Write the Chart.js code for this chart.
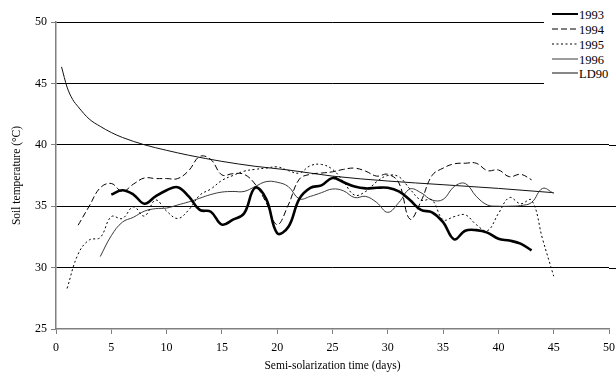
<!DOCTYPE html>
<html><head><meta charset="utf-8">
<script src="https://cdn.jsdelivr.net/npm/chart.js@4"></script>
<style>
body{margin:0;background:#fff}
#wrap{position:relative;width:616px;height:381px}
#legend{position:absolute;left:544px;top:0;width:72px;height:90px;background:#fff}
#legend text{font-family:"Liberation Serif","Times New Roman",serif;font-size:12.5px;fill:#000}
</style>
</head><body>
<div id="wrap">
<canvas id="c" width="616" height="381"></canvas>
<svg id="legend" width="72" height="90" xmlns="http://www.w3.org/2000/svg"></svg>
</div>
<script>
// ---- data ----
const seriesNames = ["1993", "1994", "1995", "1996", "LD90"];
const yTicks = [25, 30, 35, 40, 45, 50];
const xTicks = [0, 5, 10, 15, 20, 25, 30, 35, 40, 45, 50];

const days1993 = [5,6,7,8,9,10,11,12,13,14,15,16,17,18,19,20,21,22,23,24,25,26,27,28,29,30,31,32,33,34,35,36,37,38,39,40,41,42,43];
const temp1993 = [35.95,36.3,35.95,35.2,35.8,36.3,36.55,35.8,34.7,34.55,33.5,33.9,34.4,36.5,35.6,32.8,33.3,35.6,36.5,36.7,37.3,36.95,36.6,36.45,36.5,36.5,36.2,35.5,34.7,34.5,33.7,32.3,33.0,33.05,32.85,32.35,32.2,31.95,31.4];

const days1994 = [2,3,4,5,6,7,8,9,10,11,12,13,14,15,16,17,18,19,20,21,22,23,24,25,26,27,28,29,30,31,32,33,34,35,36,37,38,39,40,41,42,43];
const temp1994 = [33.45,35.0,36.5,36.85,36.2,36.8,37.3,37.25,37.25,37.25,37.9,39.05,38.8,37.55,37.65,37.6,36.8,35.3,33.5,35.1,37.2,37.6,37.7,37.8,38.0,38.1,37.85,37.45,37.6,36.9,33.95,35.4,37.5,38.1,38.45,38.5,38.5,37.9,37.95,37.4,37.6,37.15];

const days1995 = [1,2,3,4,5,6,7,8,9,10,11,12,13,14,15,16,17,18,19,20,21,22,23,24,25,26,27,28,29,30,31,32,33,34,35,36,37,38,39,40,41,42,43,44,45];
const temp1995 = [28.3,31.1,32.25,32.45,34.15,34.0,34.95,34.2,35.5,34.6,34.0,34.7,35.9,36.4,37.1,37.5,37.85,38.0,38.1,38.2,37.9,37.7,38.3,38.4,38.0,37.0,35.9,36.2,37.0,37.5,37.4,36.4,35.5,35.5,33.9,34.15,34.3,33.5,33.0,34.4,35.7,35.2,35.5,32.3,29.3];

const days1996 = [4,5,6,7,8,9,10,11,12,13,14,15,16,17,18,19,20,21,22,23,24,25,26,27,28,29,30,31,32,33,34,35,36,37,38,39,40,41,42,43,44,45];
const temp1996 = [30.9,32.6,33.7,34.1,34.6,34.8,34.85,35.1,35.35,35.65,35.95,36.15,36.2,36.2,36.6,37.0,36.95,36.6,35.6,35.8,36.1,36.4,36.25,35.7,35.8,35.3,34.5,35.3,36.4,36.1,35.5,35.55,36.6,36.85,35.8,35.1,35.0,35.0,35.05,35.3,36.45,36.05];

const daysLD90 = [0.5,1,1.5,2,3,4,5,6,8,10,12,15,18,21,25,30,35,40,45];
const tempLD90 = [46.35,44.7,43.7,43.1,42.1,41.5,41.0,40.6,40.0,39.55,39.15,38.65,38.25,37.95,37.45,37.05,36.75,36.45,36.1];

// ---- styles ----
const SERIF = '"Liberation Serif","Times New Roman",serif';
const pts = (xs, ys) => xs.map((x, i) => ({x: x, y: ys[i]}));
const styles = [
  {borderColor:'#000', borderWidth:2.6, borderDash:[]},
  {borderColor:'#000', borderWidth:1, borderDash:[6,3]},
  {borderColor:'#000', borderWidth:1, borderDash:[2,2.5]},
  {borderColor:'#3a3a3a', borderWidth:1, borderDash:[]},
  {borderColor:'#111', borderWidth:1, borderDash:[]}
];
const dataPairs = [[days1993,temp1993],[days1994,temp1994],[days1995,temp1995],[days1996,temp1996],[daysLD90,tempLD90]];

const datasets = seriesNames.map((n, i) => Object.assign({
  label: n,
  data: pts(dataPairs[i][0], dataPairs[i][1]),
  pointRadius: 0,
  fill: false,
  tension: 0.4,
  cubicInterpolationMode: n === 'LD90' ? 'monotone' : 'default'
}, styles[i]));

const extendGrid = {
  id: 'extendGrid',
  afterDraw(chart) {
    const {ctx, chartArea, scales} = chart;
    ctx.save();
    ctx.strokeStyle = '#000';
    ctx.lineWidth = 1;
    yTicks.forEach(v => {
      if (v === yTicks[0]) return;
      const py = Math.round(scales.y.getPixelForValue(v)) + 0.5;
      ctx.beginPath();
      ctx.moveTo(chartArea.right, py);
      ctx.lineTo(chart.width, py);
      ctx.stroke();
    });
    ctx.restore();
  }
};

new Chart(document.getElementById('c'), {
  type: 'line',
  data: {datasets},
  plugins: [extendGrid],
  options: {
    responsive: false,
    animation: false,
    devicePixelRatio: 1,
    layout: {padding: {top: 22, right: 0, left: 0, bottom: 0}},
    plugins: {legend: {display: false}, tooltip: {enabled: false}},
    scales: {
      x: {
        type: 'linear', min: 0, max: 50,
        afterBuildTicks: s => { s.ticks = xTicks.map(v => ({value: v})); },
        afterFit: s => { s.height = 52; s.paddingRight = 7; },
        ticks: {color: '#000', font: {family: SERIF, size: 12}, padding: 7, maxRotation: 0},
        grid: {drawOnChartArea: false, drawTicks: true, tickLength: 5, color: '#808080'},
        border: {color: '#808080', width: 1.5},
        title: {display: true, text: 'Semi-solarization time (days)', color: '#000',
                font: {family: SERIF, size: 11.5}, padding: {top: 0, bottom: 8}}
      },
      y: {
        min: 25, max: 50,
        afterBuildTicks: s => { s.ticks = yTicks.map(v => ({value: v})); },
        afterFit: s => { s.width = 56; },
        ticks: {color: '#000', font: {family: SERIF, size: 12}, padding: 4},
        grid: {
          color: c => (c.tick && c.tick.value === yTicks[0]) ? 'rgba(0,0,0,0)' : '#000',
          tickColor: '#808080', drawTicks: true, tickLength: 5, lineWidth: 1
        },
        border: {color: '#808080', width: 1.5},
        title: {display: true, text: 'Soil temperature (°C)', color: '#000',
                font: {family: SERIF, size: 11.5}, padding: {top: 10, bottom: 0}}
      }
    }
  }
});

// ---- legend (top right, white box) ----
(function () {
  const svg = document.getElementById('legend');
  const NS = 'http://www.w3.org/2000/svg';
  const rowsY = [14, 29, 44, 59, 73];
  seriesNames.forEach((n, i) => {
    const st = styles[i];
    const ln = document.createElementNS(NS, 'line');
    ln.setAttribute('x1', 8); ln.setAttribute('x2', 34);
    ln.setAttribute('y1', rowsY[i]); ln.setAttribute('y2', rowsY[i]);
    ln.setAttribute('stroke', st.borderColor);
    ln.setAttribute('stroke-width', i === 0 ? 2 : 1);
    if (st.borderDash.length) ln.setAttribute('stroke-dasharray', st.borderDash.join(' '));
    svg.appendChild(ln);
    const t = document.createElementNS(NS, 'text');
    t.setAttribute('x', 35); t.setAttribute('y', rowsY[i] + 4.5);
    t.textContent = n;
    svg.appendChild(t);
  });
})();
</script>
</body></html>
